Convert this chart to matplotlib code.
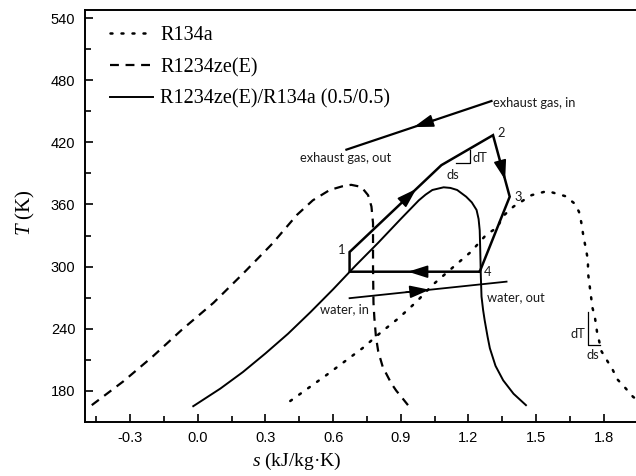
import matplotlib
matplotlib.use("Agg")
import matplotlib.pyplot as plt
import numpy as np

# saturation domes (s in kJ/kg.K, T in K)
r134a_s = [0.41, 0.57, 0.73, 0.81, 0.89, 0.97, 1.04, 1.13, 1.21, 1.28, 1.33, 1.35,
           1.40, 1.48, 1.55, 1.63, 1.67, 1.69, 1.70, 1.71, 1.72, 1.73, 1.73, 1.74,
           1.75, 1.76, 1.77, 1.79, 1.84, 1.86, 1.89, 1.93, 1.95]
r134a_T = [170, 195, 221, 236, 250, 266, 282, 299, 314, 331, 338, 348,
           358, 369, 373, 368, 361, 353, 343, 329, 318, 306, 294, 277,
           260, 252, 237, 218, 200, 191, 184, 174, 171]

r1234ze_s = [-0.47, -0.33, -0.20, -0.07, 0.07, 0.20, 0.33, 0.44, 0.51, 0.585, 0.64,
             0.68, 0.725, 0.755, 0.77, 0.777, 0.777, 0.779, 0.783, 0.79, 0.80, 0.82,
             0.858, 0.88, 0.91, 0.932]
r1234ze_T = [166, 189, 213, 239, 265, 293, 322, 350, 364, 374, 377.5,
             379, 377, 369, 358, 342, 300, 265, 250, 232, 218, 203,
             187, 180, 172, 166]

mix_s = [-0.02, 0.10, 0.20, 0.30, 0.40, 0.50, 0.60, 0.70, 0.80, 0.90, 0.98, 1.01,
         1.04, 1.09, 1.12, 1.15, 1.19, 1.215, 1.236, 1.245, 1.25, 1.252, 1.255, 1.258,
         1.265, 1.272, 1.285, 1.295, 1.32, 1.354, 1.40, 1.455]
mix_T = [165, 182, 198, 216, 235, 256, 278, 301, 323, 346, 364, 369.5,
         374, 376.6, 376, 374, 367.5, 362, 354.7, 346, 335, 319, 290, 271,
         258, 248, 232, 221, 204, 190, 177, 166]

# cycle 4 -> 1' -> 1 -> 2 -> 3 -> 4
cycle_s = [1.25, 0.673, 0.673, 1.08, 1.309, 1.383, 1.25]
cycle_T = [295, 295, 314, 398, 427, 367.5, 295]

# heat source / sink streams
exhaust_s = [1.302, 0.659]
exhaust_T = [460, 413]
water_s = [0.673, 1.369]
water_T = [269.4, 285.4]

labels = ["R134a", "R1234ze(E)", "R1234ze(E)/R134a (0.5/0.5)"]

plt.rcParams['mathtext.fontset'] = 'custom'
plt.rcParams['mathtext.it'] = 'Liberation Serif:italic'
plt.rcParams['mathtext.rm'] = 'Liberation Serif'

fig = plt.figure(figsize=(6.36, 4.76), dpi=100)
ax = fig.add_axes([85 / 636, 54.3 / 476, 552.6 / 636, 411.7 / 476])

ax.plot(r134a_s, r134a_T, color='k', lw=1.8, linestyle=(0, (0.8, 3.6)),
        dash_capstyle='round', label=labels[0])
ax.plot(r1234ze_s, r1234ze_T, color='k', lw=1.6, linestyle=(0, (4, 3)), label=labels[1])
ax.plot(mix_s, mix_T, color='k', lw=1.4, label=labels[2])

ax.plot(cycle_s, cycle_T, color='k', lw=1.8, solid_joinstyle='miter')
ax.plot(exhaust_s, exhaust_T, color='k', lw=1.6)
ax.plot(water_s, water_T, color='k', lw=1.3)


def mid_arrow(s, T, i, frac):
    p0 = np.array([s[i], T[i]])
    p1 = np.array([s[i + 1], T[i + 1]])
    tip = p0 + frac * (p1 - p0)
    tail = p0 + (frac - 0.15) * (p1 - p0)
    ax.annotate('', xy=tip, xytext=tail,
                arrowprops=dict(arrowstyle='-|>,head_length=1.1,head_width=0.35',
                                color='k', lw=1.2, shrinkA=0, shrinkB=0,
                                mutation_scale=11))


mid_arrow(cycle_s, cycle_T, 0, 0.551)
mid_arrow(cycle_s, cycle_T, 2, 0.727)
mid_arrow(cycle_s, cycle_T, 4, 0.728)
mid_arrow(exhaust_s, exhaust_T, 0, 0.536)
mid_arrow(water_s, water_T, 0, 0.51)

# dT/ds triangles
ax.plot([1.147, 1.206, 1.206], [399.8, 399.8, 412.7], color='k', lw=0.9)
ax.plot([1.731, 1.731, 1.783], [256.4, 224.3, 224.3], color='k', lw=0.9)

ann = dict(family='Lato', fontsize=9.3, color='#1a1a1a')
ax.text(0.637, 316, '1', ha='center', va='center', **ann)
ax.text(1.347, 429, '2', ha='center', va='center', **ann)
ax.text(1.420, 367.5, '3', ha='center', va='center', **ann)
ax.text(1.287, 295, '4', ha='center', va='center', **ann)
ax.text(1.25, 404.6, 'dT', ha='center', va='center', **ann)
ax.text(1.132, 388.5, 'ds', ha='center', va='center', **ann)
ax.text(1.687, 234.9, 'dT', ha='center', va='center', **ann)
ax.text(1.75, 214.6, 'ds', ha='center', va='center', **ann)
ax.text(1.31, 458.4, 'exhaust gas, in', ha='left', va='center', **ann)
ax.text(0.657, 404.9, 'exhaust gas, out', ha='center', va='center', **ann)
ax.text(0.651, 259, 'water, in', ha='center', va='center', **ann)
ax.text(1.281, 270.6, 'water, out', ha='left', va='center', **ann)

ax.set_xlim(-0.5, 1.95)
ax.set_ylim(150, 548)
ax.set_xticks(np.arange(-0.3, 1.81, 0.3))
ax.set_xticks(np.arange(-0.45, 1.95, 0.3), minor=True)
ax.set_yticks(np.arange(180, 541, 60))
ax.set_yticks(np.arange(210, 541, 60), minor=True)
ax.set_xticklabels([f"{v:.1f}" for v in np.arange(-0.3, 1.81, 0.3)])

for sp in ax.spines.values():
    sp.set_linewidth(1.4)
ax.spines['right'].set_visible(False)

ax.tick_params(which='both', direction='in', width=1.2, labelsize=10.5, top=False, right=False)
ax.tick_params(which='major', length=6)
ax.tick_params(which='minor', length=4.5)
ax.tick_params(axis='x', pad=7)
ax.tick_params(axis='y', pad=7)
for lab in ax.get_xticklabels() + ax.get_yticklabels():
    lab.set_family('Liberation Sans')

ax.set_xlabel(r'$s$ (kJ/kg·K)', family='Liberation Serif', fontsize=14)
ax.set_ylabel(r'$T$ (K)', family='Liberation Serif', fontsize=15)
ax.xaxis.set_label_coords(0.384, -0.070)
ax.yaxis.set_label_coords(-0.087, 0.507)

ax.legend(loc='upper left', bbox_to_anchor=(0.02, 0.995), frameon=False,
          prop={'family': 'Liberation Serif', 'size': 14.5},
          handlelength=2.15, handletextpad=0.35, labelspacing=0.62, borderpad=0.2)

fig.savefig('out.png', dpi=100)
